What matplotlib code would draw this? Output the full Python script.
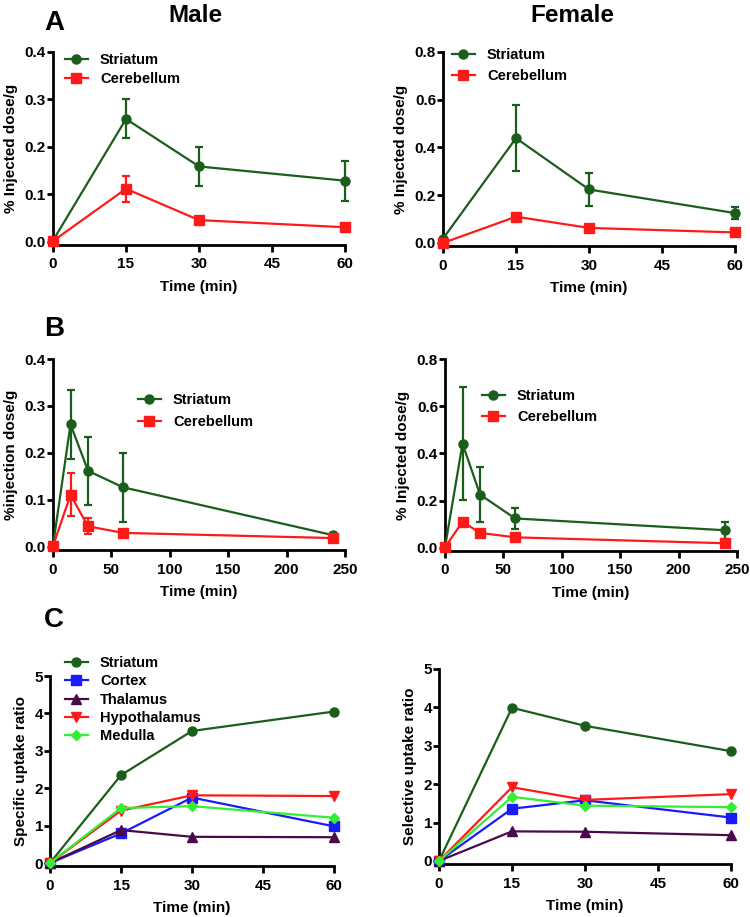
import matplotlib
matplotlib.use("Agg")
import matplotlib.pyplot as plt
from matplotlib.container import ErrorbarContainer

plt.rcParams['font.family'] = ['Liberation Sans', 'DejaVu Sans']
plt.rcParams['font.weight'] = 'bold'

# Time points (min)
t_short = [0, 15, 30, 60]
t_long = [0, 15, 30, 60, 240]

# A: % injected dose/g (mean, error)
a_male_str = [0.003, 0.259, 0.159, 0.129]
a_male_str_err = [0, 0.041, 0.041, 0.042]
a_male_cer = [0.002, 0.112, 0.046, 0.031]
a_male_cer_err = [0, 0.027, 0.007, 0.003]
a_fem_str = [0.018, 0.439, 0.224, 0.125]
a_fem_str_err = [0, 0.137, 0.068, 0.026]
a_fem_cer = [0.0, 0.110, 0.063, 0.044]
a_fem_cer_err = [0, 0.006, 0.004, 0.003]

# B: % injected dose/g incl. 240 min
b_male_str = [0.003, 0.261, 0.162, 0.127, 0.025]
b_male_str_err = [0, 0.073, 0.072, 0.073, 0.004]
b_male_cer = [0.002, 0.111, 0.044, 0.030, 0.019]
b_male_cer_err = [0, 0.046, 0.017, 0.004, 0.003]
b_fem_str = [0.003, 0.442, 0.226, 0.125, 0.075]
b_fem_str_err = [0, 0.238, 0.117, 0.044, 0.036]
b_fem_cer = [0.003, 0.111, 0.064, 0.045, 0.020]
b_fem_cer_err = [0, 0.006, 0.004, 0.003, 0.003]

# C: uptake ratios
regions = ["Striatum", "Cortex", "Thalamus", "Hypothalamus", "Medulla"]
c_male = [[0, 2.35, 3.53, 4.05],
          [0, 0.79, 1.75, 0.98],
          [0, 0.88, 0.70, 0.69],
          [0, 1.40, 1.81, 1.79],
          [0, 1.47, 1.52, 1.21]]
c_fem = [[0, 3.99, 3.52, 2.86],
         [0, 1.36, 1.58, 1.13],
         [0, 0.77, 0.76, 0.67],
         [0, 1.92, 1.59, 1.74],
         [0, 1.67, 1.44, 1.40]]

green = '#1b5e1b'
red = '#ff1a1a'
colors = [green, '#1a1aff', '#4a0a4a', red, '#33ee33']
markers = ['o', 's', '^', 'v', 'D']
msizes = [6.5, 7, 6.5, 6.5, 5]

fig = plt.figure(figsize=(7.5, 9.17), dpi=100)
W, H = 750.0, 917.0


def make_ax(l, r, t, b):
    return fig.add_axes([l / W, 1 - b / H, (r - l) / W, (b - t) / H])


def style(ax, xmax, xticks, ymax, yticks, fmt, ylabel):
    ax.set_xlim(0, xmax)
    ax.set_ylim(-ymax * 0.016, ymax)
    ax.set_xticks(xticks)
    ax.set_yticks(yticks)
    ax.set_yticklabels([fmt.format(v) for v in yticks])
    for s in ['top', 'right']:
        ax.spines[s].set_visible(False)
    for s in ['left', 'bottom']:
        ax.spines[s].set_linewidth(2)
    ax.tick_params(axis='x', width=2, length=5, labelsize=11, pad=4)
    ax.tick_params(axis='y', width=2, length=4, labelsize=11, pad=1)
    for lab in ax.get_xticklabels() + ax.get_yticklabels():
        lab.set_fontweight('bold')
    ax.set_xlabel("Time (min)", fontsize=11, fontweight='bold', labelpad=6)
    ax.set_ylabel(ylabel, fontsize=11, fontweight='bold', labelpad=5)


def two_lines(ax, t, s, se, c, ce):
    ax.errorbar(t, s, yerr=se, color=green, marker='o', ms=6.5, lw=1.6,
                capsize=3, elinewidth=1.6, capthick=1.6, clip_on=False,
                label="Striatum", zorder=3)
    ax.errorbar(t, c, yerr=ce, color=red, marker='s', ms=6.5, lw=1.6,
                capsize=3, elinewidth=1.6, capthick=1.6, clip_on=False,
                label="Cerebellum", zorder=3)


def legend(ax, x, y, spacing):
    handles, labels = ax.get_legend_handles_labels()
    handles = [h.lines[0] if isinstance(h, ErrorbarContainer) else h for h in handles]
    ax.legend(handles, labels, loc='upper left', bbox_to_anchor=(x / W, 1 - y / H),
              bbox_transform=fig.transFigure, frameon=False,
              borderpad=0, borderaxespad=0, handlelength=1.55, handletextpad=0.85,
              labelspacing=spacing, prop={'weight': 'bold', 'size': 10.5})


# Panel A
ax = make_ax(53, 345, 52, 245)
two_lines(ax, t_short, a_male_str, a_male_str_err, a_male_cer, a_male_cer_err)
style(ax, 60, [0, 15, 30, 45, 60], 0.4, [0, 0.1, 0.2, 0.3, 0.4], "{:.1f}", "% Injected dose/g")
legend(ax, 65, 53, 0.35)

ax = make_ax(443, 735, 52, 246)
two_lines(ax, t_short, a_fem_str, a_fem_str_err, a_fem_cer, a_fem_cer_err)
style(ax, 60, [0, 15, 30, 45, 60], 0.8, [0, 0.2, 0.4, 0.6, 0.8], "{:.1f}", "% Injected dose/g")
legend(ax, 452, 48, 0.5)

# Panel B
ax = make_ax(53, 345, 359, 550)
two_lines(ax, t_long, b_male_str, b_male_str_err, b_male_cer, b_male_cer_err)
style(ax, 250, [0, 50, 100, 150, 200, 250], 0.4, [0, 0.1, 0.2, 0.3, 0.4], "{:.1f}", "%injection dose/g")
legend(ax, 138, 393, 0.55)

ax = make_ax(445, 737, 359, 551)
two_lines(ax, t_long, b_fem_str, b_fem_str_err, b_fem_cer, b_fem_cer_err)
style(ax, 250, [0, 50, 100, 150, 200, 250], 0.8, [0, 0.2, 0.4, 0.6, 0.8], "{:.1f}", "% Injected dose/g")
legend(ax, 482, 389, 0.5)

# Panel C
for (l, r, t, b), data, ylabel, leg in [((50, 334, 676, 866), c_male, "Specific uptake ratio", True),
                                         ((439, 731, 669, 864), c_fem, "Selective uptake ratio", False)]:
    ax = make_ax(l, r, t, b)
    for name, vals, col, m, ms in zip(regions, data, colors, markers, msizes):
        ax.plot(t_short, vals, color=col, marker=m, ms=ms, lw=1.6, clip_on=False,
                label=name, zorder=3)
    style(ax, 60, [0, 15, 30, 45, 60], 5, [0, 1, 2, 3, 4, 5], "{:.0f}", ylabel)
    if leg:
        legend(ax, 65, 656, 0.3)

# Titles and panel letters
fig.text(195 / W, 1 - 16 / H, "Male", fontsize=17.5, fontweight='bold', ha='center', va='center')
fig.text(572 / W, 1 - 16 / H, "Female", fontsize=17.5, fontweight='bold', ha='center', va='center')
for letter, y in [("A", 23), ("B", 329), ("C", 620)]:
    fig.text(44 / W, 1 - y / H, letter, fontsize=20, fontweight='bold', ha='left', va='center')

fig.savefig("out.png", dpi=100)
